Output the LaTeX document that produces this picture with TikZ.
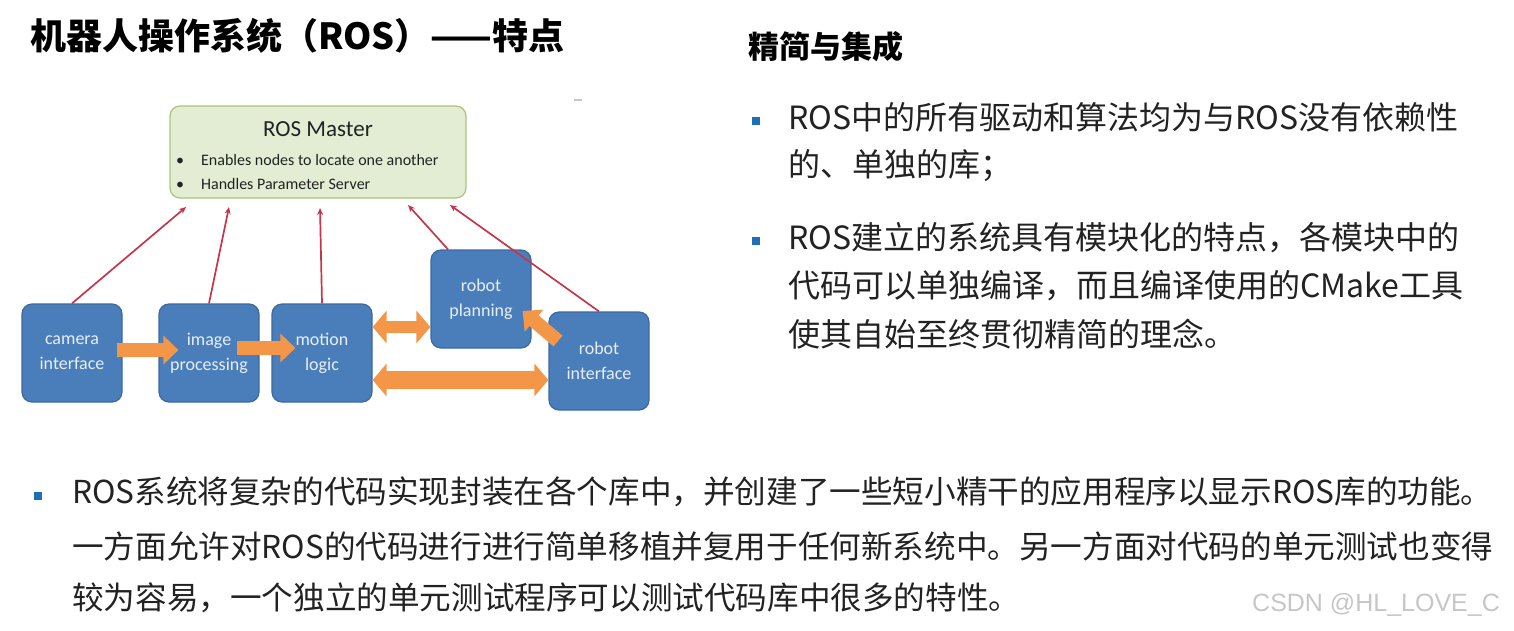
\documentclass[tikz,border=0pt]{standalone}
\usepackage{fontspec}
\setmainfont{Noto Sans CJK SC}
\newfontfamily\diagfont{Carlito}
\newfontfamily\markfont{Liberation Sans}
\usetikzlibrary{arrows.meta,positioning}
\definecolor{boxblue}{RGB}{74,126,187}
\definecolor{boxedge}{RGB}{60,105,160}
\definecolor{boxtext}{RGB}{232,238,246}
\definecolor{mastfill}{RGB}{227,237,212}
\definecolor{mastedge}{RGB}{170,195,125}
\definecolor{flowor}{RGB}{243,150,72}
\definecolor{linkred}{RGB}{196,54,74}
\definecolor{dotblue}{RGB}{30,111,184}
\definecolor{bodytext}{RGB}{34,34,34}
\begin{document}
\begin{tikzpicture}[x=1pt,y=-1pt,
    mod/.style={draw=boxedge, fill=boxblue, line width=1.2pt, rounded corners=10pt, minimum width=100pt, minimum height=98pt, align=center, text=boxtext, font=\diagfont\fontsize{18}{25}\selectfont},
    link/.style={draw=linkred, line width=1.7pt, -{Stealth[length=7pt,width=6pt]}},
    flow/.style={draw=flowor, line width=14pt, -{Triangle[length=15pt,width=28pt]}},
    flowtwo/.style={draw=flowor, line width=#1, {Triangle[length=14pt,width=32pt]}-{Triangle[length=14pt,width=32pt]}},
    line/.style={anchor=west, inner sep=0pt, text=bodytext, font=\fontsize{32}{32}\selectfont},
    sq/.style={fill=dotblue, minimum size=8pt, inner sep=0pt}]
    \useasboundingbox (0,0) rectangle (1514,630);
    % title and heading
    \node[anchor=west, inner sep=0pt, font=\bfseries\fontsize{36}{36}\selectfont] (title) at (30,36) {机器人操作系统（ROS）——特点};
    \node[anchor=west, inner sep=0pt, font=\bfseries\fontsize{31}{31}\selectfont] (head) at (748,47) {精简与集成};
    \node[fill=gray!45, minimum width=8pt, minimum height=2pt, inner sep=0pt] (dash) at (578,100) {};
    % ROS master
    \node[draw=mastedge, fill=mastfill, line width=1.2pt, rounded corners=10pt, minimum width=296pt, minimum height=92pt] (master) at (318,152) {};
    \node[font=\diagfont\fontsize{23}{23}\selectfont, text=bodytext] (mtitle) at (318,129) {ROS Master};
    \node[anchor=west, inner sep=0pt, font=\diagfont\fontsize{16}{16}\selectfont, text=bodytext] (mb1) at (176,160) {\textbullet\hspace{17pt}Enables nodes to locate one another};
    \node[anchor=west, inner sep=0pt, font=\diagfont\fontsize{16}{16}\selectfont, text=bodytext] (mb2) at (176,184) {\textbullet\hspace{17pt}Handles Parameter Server};
    % modules
    \node[mod] (cam) at (72,353) {camera\\interface};
    \node[mod] (img) at (209,353) {image\\processing};
    \node[mod] (mot) at (322,353) {motion\\logic};
    \node[mod] (plan) at (481,299) {robot\\planning};
    \node[mod] (robo) at (599,361) {robot\\interface};
    % ends on the master
    \coordinate (m1) at (186,207); \coordinate (m2) at (229,207);
    \coordinate (m3) at (320,208); \coordinate (m4) at (408,205);
    \coordinate (m5) at (450,205);
    \coordinate (p1) at ([xshift=-33pt]plan.north);
    \foreach \s/\t in {cam.north/m1, img.north/m2, mot.north/m3, p1/m4, robo.north/m5}
        \draw[link] (\s) -- (\t);
    % data flow
    \draw[flow] ([xshift=-6pt,yshift=3pt]cam.east) -- ([xshift=20pt,yshift=3pt]img.west);
    \draw[flow] ([xshift=-23pt,yshift=5pt]img.east) -- ([xshift=24pt,yshift=5pt]mot.west);
    \draw[flowtwo=12pt] ([yshift=26pt]mot.east) -- ([yshift=26pt]mot.east -| plan.west);
    \draw[flowtwo=18pt] ([yshift=-27pt]mot.east) -- ([yshift=-27pt]mot.east -| robo.west);
    \coordinate (r1) at (558,341);
    \draw[flow] (r1) -- ([xshift=-9pt,yshift=-12pt]plan.east);
    % right column
    \node[sq] (b1) at (756,121) {};
    \node[line] (t1) at (788,117) {ROS中的所有驱动和算法均为与ROS没有依赖性};
    \node[line] (t2) at (788,166) {的、单独的库；};
    \node[sq] (b2) at (756,241) {};
    \node[line] (t3) at (788,238) {ROS建立的系统具有模块化的特点，各模块中的};
    \node[line] (t4) at (788,286) {代码可以单独编译，而且编译使用的CMake工具};
    \node[line] (t5) at (788,334) {使其自始至终贯彻精简的理念。};
    % bottom paragraph
    \node[sq] (b3) at (38,496) {};
    \node[line, font=\fontsize{31.6}{32}\selectfont] (u1) at (72,492) {ROS系统将复杂的代码实现封装在各个库中，并创建了一些短小精干的应用程序以显示ROS库的功能。};
    \node[line, font=\fontsize{31.6}{32}\selectfont] (u2) at (72,546) {一方面允许对ROS的代码进行进行简单移植并复用于任何新系统中。另一方面对代码的单元测试也变得};
    \node[line, font=\fontsize{31.6}{32}\selectfont] (u3) at (72,598) {较为容易，一个独立的单元测试程序可以测试代码库中很多的特性。};
    \node[anchor=west, inner sep=0pt, text=gray!45, font=\markfont\fontsize{25}{25}\selectfont] (mark) at (1252,605) {CSDN @HL\_LOVE\_C};
\end{tikzpicture}
\end{document}
